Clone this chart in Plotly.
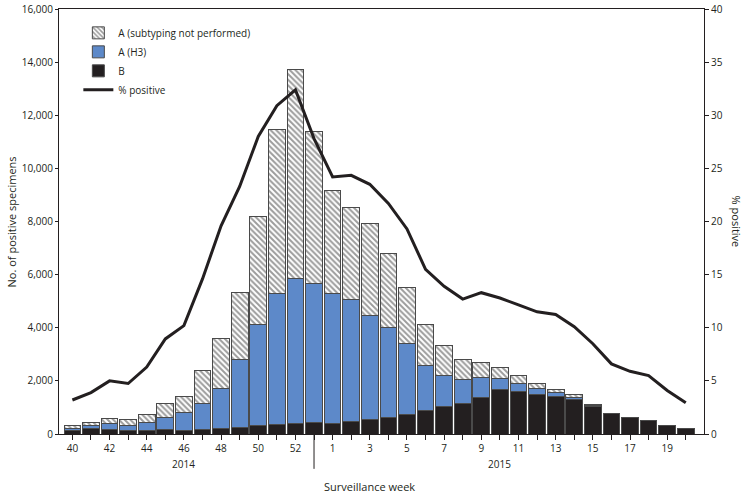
import plotly.graph_objects as go

# ---- data ----
weeks = [str(w) for w in list(range(40, 54)) + list(range(1, 21))]
tick_labels = ["40", "42", "44", "46", "48", "50", "52",
               "1", "3", "5", "7", "9", "11", "13", "15", "17", "19"]

flu_b = [150, 190, 175, 140, 150, 160, 150, 165, 190, 240, 313, 340, 402, 427,
         377, 477, 553, 603, 742, 879, 1018, 1131, 1369, 1659, 1583, 1496, 1420,
         1310, 1030, 766, 615, 516, 328, 195]
flu_a_h3 = [65, 123, 202, 187, 276, 480, 641, 991, 1532, 2575, 3822, 4963, 5453, 5253,
            4900, 4574, 3895, 3417, 2651, 1696, 1194, 917, 754, 439, 302, 200, 140,
            70, 30, 0, 0, 0, 0, 0]
flu_a_unsub = [90, 127, 200, 208, 290, 516, 603, 1234, 1885, 2511, 4055, 6155, 7865, 5690,
               3893, 3494, 3479, 2765, 2137, 1560, 1105, 752, 553, 416, 313, 200, 120,
               90, 60, 0, 0, 0, 0, 0]
pct_positive = [3.2, 3.9, 5.0, 4.75, 6.3, 8.95, 10.2, 14.6, 19.6, 23.3, 28.0, 30.9, 32.4, 27.8,
                24.2, 24.35, 23.5, 21.7, 19.3, 15.5, 13.9, 12.7, 13.3, 12.8, 12.15, 11.5, 11.25,
                10.1, 8.5, 6.6, 5.9, 5.5, 4.1, 2.95]

year_labels = ["2014", "2015"]

FONT = "Open Sans"
BLACK = "#231f20"
BLUE = "#5d89c9"
OUTLINE = "#4a4a4a"

fig = go.Figure()

fig.add_trace(go.Bar(
    x=weeks, y=flu_b, name="B",
    marker=dict(color=BLACK, line=dict(color=OUTLINE, width=1)),
    legendrank=3,
))
fig.add_trace(go.Bar(
    x=weeks, y=flu_a_h3, name="A (H3)",
    marker=dict(color=BLUE, line=dict(color=OUTLINE, width=1)),
    legendrank=2,
))
fig.add_trace(go.Bar(
    x=weeks, y=flu_a_unsub, name="A (subtyping not performed)",
    marker=dict(color="white", line=dict(color=OUTLINE, width=1),
                pattern=dict(shape="\\", fgcolor="#3a3a3a", bgcolor="white",
                             size=4, solidity=0.5, fillmode="overlay")),
    legendrank=1,
))
fig.add_trace(go.Scatter(
    x=weeks, y=pct_positive, name="% positive", yaxis="y2",
    mode="lines", line=dict(color=BLACK, width=3),
    legendrank=4,
))

ticktext = [w if w in tick_labels else "" for w in weeks]

fig.update_layout(
    width=746, height=496,
    margin=dict(l=59, r=42, t=9, b=62),
    paper_bgcolor="white", plot_bgcolor="white",
    font=dict(family=FONT, size=10, color=BLACK),
    barmode="stack", bargap=0.1,
    showlegend=True,
    legend=dict(x=0.03, y=0.978, xanchor="left", yanchor="top",
                traceorder="normal",
                bgcolor="rgba(0,0,0,0)", font=dict(size=10, family=FONT),
                tracegroupgap=0),
    xaxis=dict(type="category", range=[-0.72, 33.98], automargin=False,
               tickmode="array", tickvals=weeks, ticktext=ticktext,
               ticks="outside", ticklen=5, tickcolor=BLACK,
               showline=True, linecolor=BLACK, linewidth=1, mirror=True,
               showgrid=False, zeroline=False,
               tickfont=dict(size=10)),
    yaxis=dict(range=[0, 16000], dtick=2000, tickformat=",", automargin=False,
               ticks="outside", ticklen=3, tickcolor=BLACK,
               showline=True, linecolor=BLACK, linewidth=1,
               showgrid=False, zeroline=False),
    yaxis2=dict(range=[0, 40], dtick=5, overlaying="y", side="right", automargin=False,
                ticks="outside", ticklen=4, tickcolor=BLACK,
                showline=True, linecolor=BLACK, linewidth=1,
                showgrid=False, zeroline=False),
)

# axis titles
fig.add_annotation(x=-0.073, y=0.5, xref="paper", yref="paper",
                   text="No. of positive specimens", textangle=-90,
                   showarrow=False, font=dict(size=11), xanchor="center", yanchor="middle")
fig.add_annotation(x=1.051, y=0.5, xref="paper", yref="paper",
                   text="% positive", textangle=90,
                   showarrow=False, font=dict(size=11), xanchor="center", yanchor="middle")
fig.add_annotation(x=16, y=-0.1247, xref="x", yref="paper", text="Surveillance week",
                   showarrow=False, font=dict(size=11), yanchor="middle")

# year labels and separator
fig.add_annotation(x=6, y=-0.0706, xref="x", yref="paper", text=year_labels[0],
                   showarrow=False, font=dict(size=10), yanchor="middle")
fig.add_annotation(x=23, y=-0.0706, xref="x", yref="paper", text=year_labels[1],
                   showarrow=False, font=dict(size=10), yanchor="middle")
fig.add_shape(type="line", xref="x", yref="paper", x0=13, x1=13, y0=0, y1=-0.082,
              line=dict(color=BLACK, width=1))

fig.write_html("out.html", config={"displayModeBar": False},
               post_script="document.body.style.margin='0';")
